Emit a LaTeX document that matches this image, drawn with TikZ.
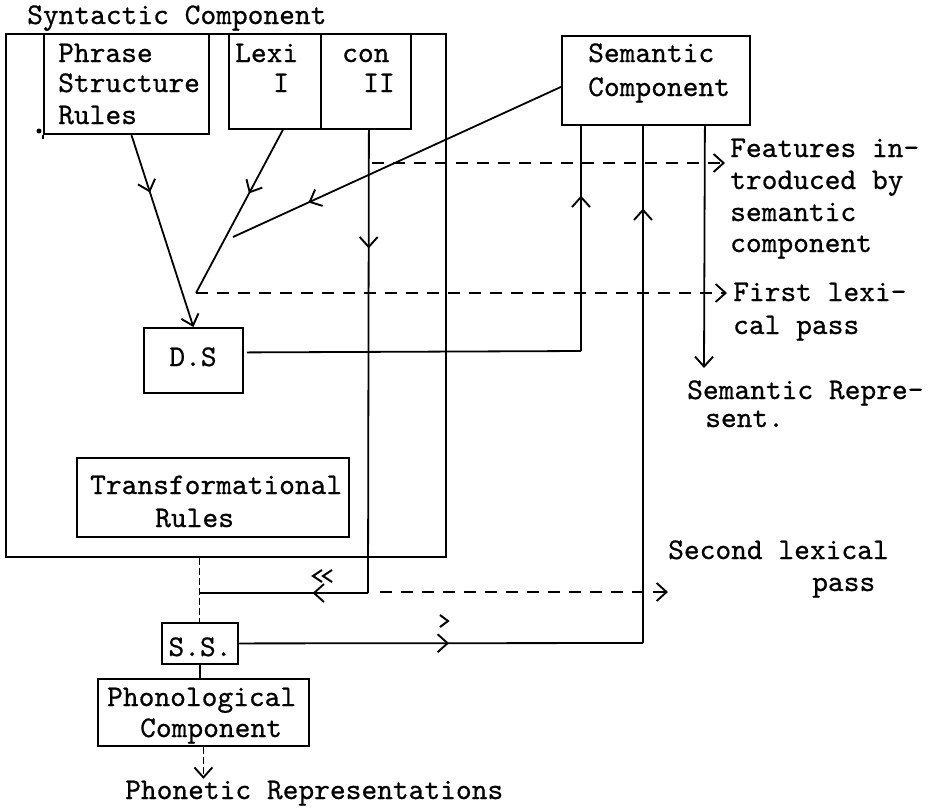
\documentclass[tikz,border=0pt]{standalone}
\usepackage{fontspec}
\newfontfamily\tw{lmmono10-regular.otf}[FakeBold=0.6]
\usetikzlibrary{arrows.meta,decorations.markings,calc}
\tikzset{
  ln/.style={line width=1.8pt},
  dsh/.style={line width=1.8pt, dash pattern=on 12pt off 9pt},
  thindsh/.style={line width=1pt, dash pattern=on 7pt off 3pt},
  endtip/.style={-{Straight Barb[length=10pt,width=18pt,line width=1.9pt]}},
  midarr/.style={postaction={decorate},decoration={markings,
     mark=at position #1 with {\arrow{Straight Barb[length=10pt,width=18pt,line width=1.9pt]}}}},
  box/.style={draw, line width=1.8pt, inner sep=0pt, anchor=north west},
  txt/.style={anchor=base west, inner sep=0pt},
  ctxt/.style={anchor=base, inner sep=0pt}
}
\begin{document}
\begin{tikzpicture}[x=1pt,y=-1pt,font=\tw\fontsize{30}{32}\selectfont]
\useasboundingbox (0,0) rectangle (928,807);

% boxes
\node[box, line width=1.5pt, minimum width=440pt, minimum height=523pt] (syn) at (5,33) {};
\node[box, minimum width=165pt, minimum height=100pt] (ps) at (43,33) {};
\node[box, minimum width=92pt, minimum height=95pt] (lex1) at (228,33) {};
\node[box, minimum width=90pt, minimum height=95pt] (lex2) at (320,33) {};
\node[box, minimum width=188pt, minimum height=89pt] (sem) at (561,35) {};
\node[box, minimum width=99pt, minimum height=65pt] (ds) at (143,327) {};
\node[box, minimum width=272pt, minimum height=79pt] (tr) at (76,457) {};
\node[box, minimum width=76pt, minimum height=41pt] (ss) at (161,622) {};
\node[box, minimum width=211pt, minimum height=67pt] (ph) at (97,678) {};

% texts
\node[txt] (tsyn) at (27,24) {Syntactic Component};
\node[txt] (tps1) at (58,62) {Phrase};
\node[txt] (tps2) at (58,92) {Structure};
\node[txt] (tps3) at (58,124) {Rules};
\node[txt] (tlx1) at (235,62) {Lexi};
\node[txt] (tlx2) at (273,92) {I};
\node[txt] (tlx3) at (342,62) {con};
\node[txt] (tlx4) at (363,92) {II};
\node[txt] (tse1) at (588,62) {Semantic};
\node[txt] (tse2) at (588,96) {Component};
\node[ctxt] (tds) at (193,366) {D.S};
\node[txt] (ttr1) at (90,494) {Transformational};
\node[txt] (ttr2) at (155,527) {Rules};
\node[txt] (tfe1) at (730,157) {Features in-};
\node[txt] (tfe2) at (730,189) {troduced by};
\node[txt] (tfe3) at (730,221) {semantic};
\node[txt] (tfe4) at (730,252) {component};
\node[txt] (tfl1) at (733,301) {First lexi-};
\node[txt] (tfl2) at (733,334) {cal pass};
\node[txt] (tsr1) at (687,399) {Semantic Repre-};
\node[txt] (tsr2) at (705,427) {sent.};
\node[txt] (tsl1) at (668,559) {Second lexical};
\node[txt] (tsl2) at (812,591) {pass};
\node[ctxt] (tss) at (200,656) {S.S.};
\node[txt] (tph1) at (107,706) {Phonological};
\node[txt] (tph2) at (140,737) {Component};
\node[txt] (tpr) at (125,799) {Phonetic Representations};

% free ends
\coordinate (jn) at (196,293);
\coordinate (semend) at (233,237);
\coordinate (fa) at (372,163);
\coordinate (fb) at (725,163);
\coordinate (fl) at (727,293);
\coordinate (c2) at (368,593);
\coordinate (c3) at (200,593);
\coordinate (sr) at (643,643);
\coordinate (dr) at (581,351);
\coordinate (srp) at (704,368);
\coordinate (sla) at (380,592);
\coordinate (slb) at (668,592);
\coordinate (pe) at ($(ph.south)+(0,32)$);

% connectors
\draw[ln] (ps.south west) -- ++(0,4);
\fill (39,131) circle (2.5);
\draw[ln, midarr=0.3, endtip] ($(ps.south)+(5,0)$) -- (ds.north);
\draw[ln, midarr=0.39] ($(lex1.south)+(8,0)$) -- (jn);
\draw[ln, midarr=0.77] ($(sem.west)+(0,6.5)$) -- (semend);
\draw[dsh, endtip] (jn) -- (fl);
\draw[dsh, endtip] (fa) -- (fb);
\draw[ln, midarr=0.256] ($(lex2.south)+(3,0)$) -- (c2);
\draw[ln, midarr=0.33] (c2) -- (c3);
\draw[thindsh] (syn.south -| ss.north) -- (ss.north);
\draw[ln] (ss.south) -- (ss.south |- ph.north);
\draw[thindsh, endtip] (ph.south) -- (pe);
\draw[ln, midarr=0.52] (ss.east) -- (sr);
\draw[ln, midarr=0.84] (sr) -- (sr |- sem.south);
\draw[ln] ($(ds.east)+(3,-8)$) -- (dr);
\draw[ln, midarr=0.69] (dr) -- (dr |- sem.south);
\draw[ln, endtip] ($(sem.south)+(49,0)$) -- (srp);
\draw[dsh, endtip] (sla) -- (slb);

% typed chevron marks
\draw[line width=2pt] (322,570) -- (313,576) -- (322,582);
\draw[line width=2pt] (332,570) -- (323,576) -- (332,582);
\draw[line width=2pt] (440,615) -- (448,621) -- (440,627);
\end{tikzpicture}
\end{document}
